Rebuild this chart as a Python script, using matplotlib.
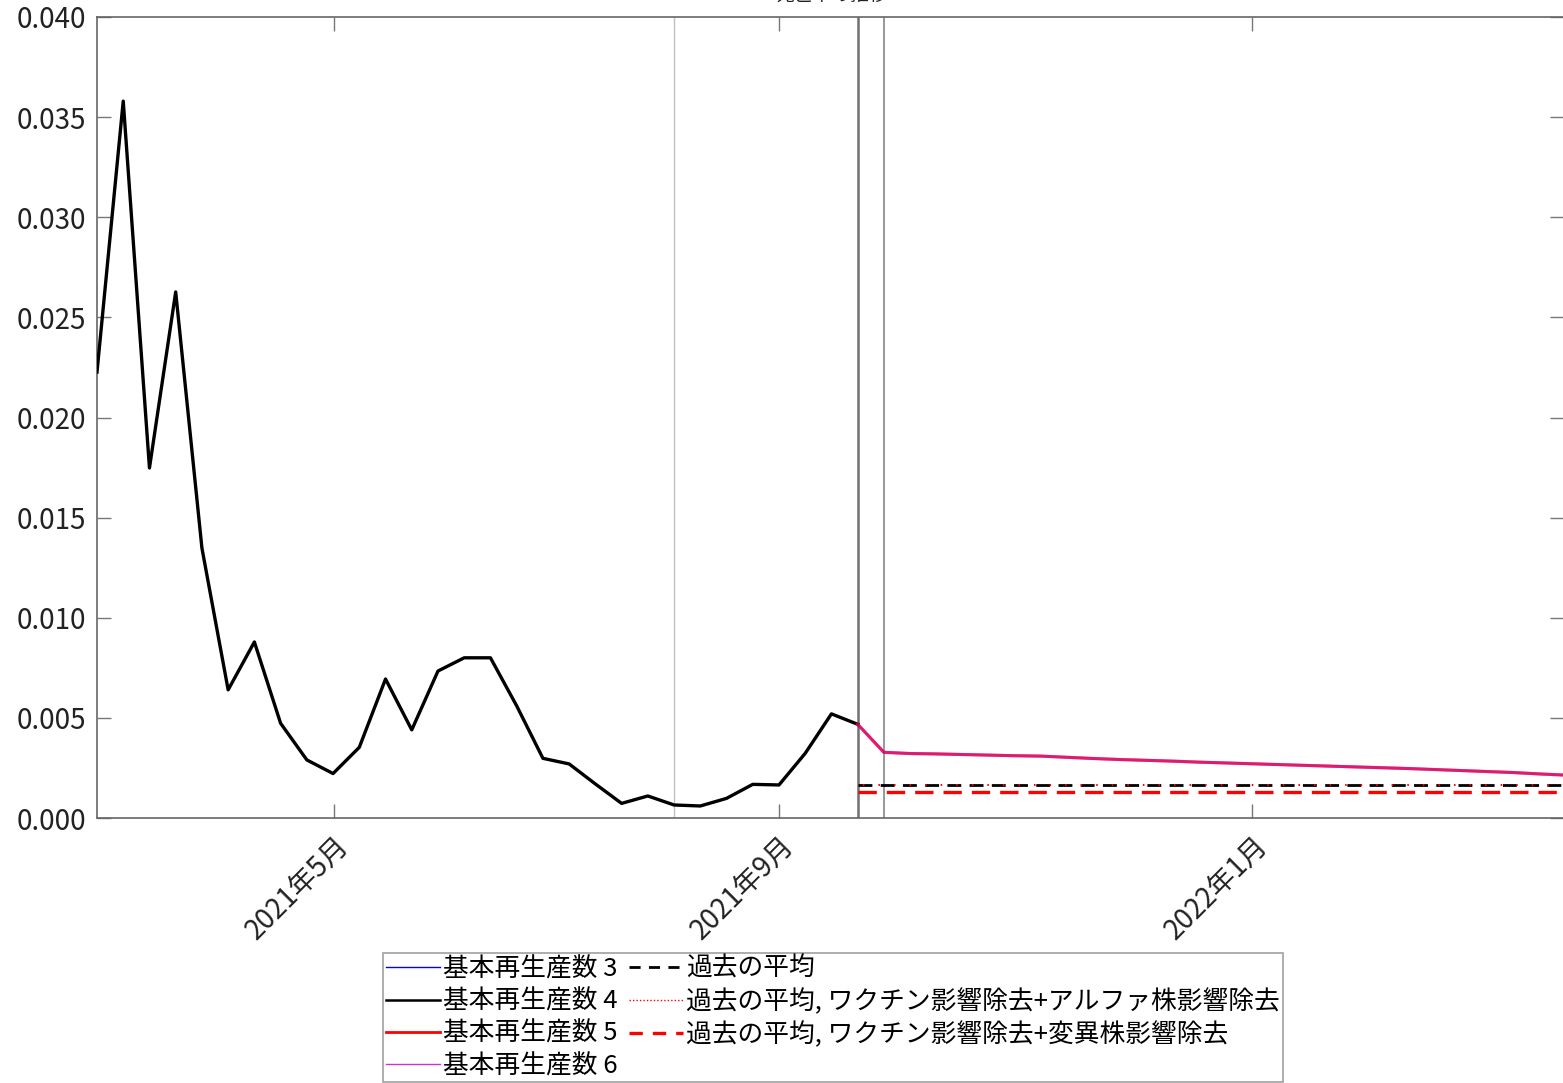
"""Mortality-rate trend with forecast scenarios (MATLAB-style recreation)."""
import matplotlib
matplotlib.use('Agg')
import matplotlib.pyplot as plt
from matplotlib.lines import Line2D
import numpy as np

plt.rcParams['font.family']=['Noto Sans CJK JP','DejaVu Sans']

# observed weekly values (week index 0..29)
obs_week=list(range(30))
obs_rate=[0.02227,0.0358,0.01748,0.02627,0.01348,0.0064,0.00879,0.00473,0.0029,0.00222,
          0.00353,0.00694,0.0044,0.00734,0.0080,0.0080,0.0056,0.00298,0.0027,0.0017,
          0.00073,0.0011,0.00065,0.0006,0.00098,0.00168,0.00165,0.00323,0.0052,0.00468]
# forecast (R scenarios 5/6 overlap)
fc_week=list(range(29,57))
fc_rate=[0.00468,0.00328,0.00322,0.00320,0.00317,0.00314,0.00311,0.00309,0.00303,0.00297,
         0.00292,0.00288,0.00284,0.00279,0.00275,0.00271,0.00267,0.00263,0.00259,0.00255,
         0.00251,0.00247,0.00242,0.00237,0.00232,0.00227,0.00220,0.00214]
past_mean=0.00163
past_mean_alpha=0.00163
past_mean_variant=0.0013
mean_start=29
vlines=[(22,'#c0c0c0',1.0),(29,'#707070',1.8),(30,'#909090',1.3)]
tick_weeks=[9.04,26.01,44.05]
tick_labels=['2021年5月','2021年9月','2022年1月']
labels_r=['基本再生産数 3','基本再生産数 4','基本再生産数 5','基本再生産数 6']
labels_m=['過去の平均','過去の平均, ワクチン影響除去+アルファ株影響除去','過去の平均, ワクチン影響除去+変異株影響除去']

W,H=1563,1083
fig=plt.figure(figsize=(W/100,H/100),dpi=100)
ax=fig.add_axes([97/W,1-818/H,(1564-97)/W,(818-17)/H])
xmax=(1564-97)/26.23

for x,c,lw in vlines:ax.axvline(x,color=c,lw=lw,zorder=1)
ax.plot(obs_week,obs_rate,color='blue',lw=1,zorder=2)
ax.plot(obs_week,obs_rate,color='black',lw=2.4,zorder=3)
ax.plot(fc_week,fc_rate,color='red',lw=2.2,alpha=0.75,zorder=3)
ax.plot(fc_week,fc_rate,color='#c000a0',lw=2.2,alpha=0.55,zorder=4)
xs=[mean_start,xmax+1]
ax.plot(xs,[past_mean]*2,color='black',lw=2,ls=(0,(5,3)),zorder=3)
ax.plot(xs,[past_mean_alpha]*2,color='red',lw=1.4,ls=(5.5,(0.8,7.2)),zorder=4)
ax.plot(xs,[past_mean_variant]*2,color='red',lw=2.4,ls=(0,(5.5,3)),zorder=3)

ax.set_xlim(0,xmax);ax.set_ylim(0,0.04)
ax.set_yticks(np.arange(0,0.0401,0.005))
ax.yaxis.set_major_formatter(matplotlib.ticker.FormatStrFormatter('%.3f'))
ax.set_xticks(tick_weeks)
ax.set_xticklabels(tick_labels,rotation=45,ha='right',rotation_mode='anchor')
ax.tick_params(direction='in',length=10,width=1,color='#777777',top=True,right=True,
               labelsize=20,labelcolor='#222222',pad=8)
ax.tick_params(axis='x',pad=9)
for s in ax.spines.values():s.set_color('#666666');s.set_linewidth(1.2)

fig.text(832/W,1+4/H,'死亡率の推移',ha='center',va='center',fontsize=13.5,color='#222222')

handles=[Line2D([],[],color='blue',lw=1),Line2D([],[],color='black',lw=1.8),
         Line2D([],[],color='red',lw=2),Line2D([],[],color='#cc33cc',lw=1),
         Line2D([],[],color='black',lw=2,ls=(0,(4,3))),Line2D([],[],color='red',lw=1,ls=(0,(1,1.5))),
         Line2D([],[],color='red',lw=2.4,ls=(0,(4,3)))]
leg=fig.legend(handles,labels_r+labels_m,ncol=2,loc='upper left',bbox_to_anchor=(383/W,1-953/H),
               fontsize=18.5,handlelength=2.1,handletextpad=0.12,columnspacing=0.45,labelspacing=0.25,
               borderpad=0.12,borderaxespad=0,frameon=True,fancybox=False,edgecolor='#888888')
leg.get_frame().set_linewidth(1.2)
fig.savefig('out.png',dpi=100)
